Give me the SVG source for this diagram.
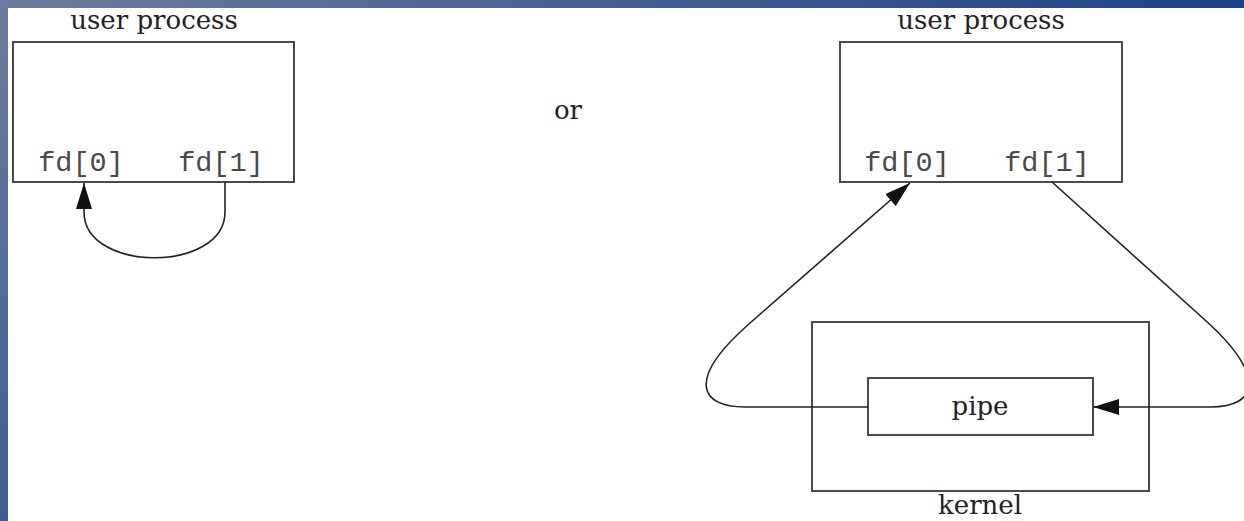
<svg xmlns="http://www.w3.org/2000/svg" width="1244" height="521" viewBox="0 0 1244 521">
  <defs>
    <linearGradient id="gTop" x1="0" y1="0" x2="1" y2="0">
      <stop offset="0" stop-color="#6d7c9c"/>
      <stop offset="1" stop-color="#1d4288"/>
    </linearGradient>
    <linearGradient id="gLeft" x1="0" y1="0" x2="0" y2="1">
      <stop offset="0" stop-color="#6d7c9c"/>
      <stop offset="1" stop-color="#3e5e95"/>
    </linearGradient>
    <marker id="arrow" markerUnits="userSpaceOnUse" markerWidth="28" markerHeight="16" refX="26" refY="8" orient="auto" viewBox="0 0 28 16">
      <path d="M0,0 L26,8 L0,16 Z" fill="#111"/>
    </marker>
  </defs>
  <style>
    .box { fill: #fff; stroke: #4a4a4a; stroke-width: 2; }
    .conn { fill: none; stroke: #222; stroke-width: 1.6; }
    .lbl { font-family: "DejaVu Serif", "Liberation Serif", serif; font-size: 26px; fill: #222; text-anchor: middle; }
    .mono { font-family: "Liberation Mono", "Courier New", monospace; font-size: 28.5px; fill: #4a4a4a; text-anchor: middle; }
  </style>
  <rect x="0" y="0" width="1244" height="521" fill="#fff"/>
  <rect x="0" y="0" width="1244" height="8" fill="url(#gTop)"/>
  <rect x="0" y="0" width="8" height="521" fill="url(#gLeft)"/>

  <g id="left-process">
    <rect class="box" x="13" y="42" width="281" height="140"/>
    <text class="lbl" x="154" y="29">user process</text>
    <text class="mono" x="81" y="171">fd[0]</text>
    <text class="mono" x="221" y="171">fd[1]</text>
  </g>

  <g id="or-label">
    <text class="lbl" x="568" y="119">or</text>
  </g>

  <g id="right-process">
    <rect class="box" x="840" y="42" width="282" height="140"/>
    <text class="lbl" x="981" y="29">user process</text>
    <text class="mono" x="907" y="171">fd[0]</text>
    <text class="mono" x="1047" y="171">fd[1]</text>
  </g>

  <g id="kernel">
    <rect class="box" x="812" y="322" width="337" height="169"/>
    <text class="lbl" x="980" y="514">kernel</text>
  </g>

  <g id="pipe">
    <rect class="box" x="868" y="378" width="225" height="57"/>
    <text class="lbl" x="980" y="415">pipe</text>
  </g>

  <g id="connectors">
    <path class="conn" d="M225,182 L225,212 C225,273 84,273 84,212 L84,183" marker-end="url(#arrow)"/>
    <path class="conn" d="M868,407 L745,407 C700,407 685,380 750,323 L910,183" marker-end="url(#arrow)"/>
    <path class="conn" d="M1052,182 L1205,320 C1265,374 1260,407 1210,407 L1093,407" marker-end="url(#arrow)"/>
  </g>
</svg>
